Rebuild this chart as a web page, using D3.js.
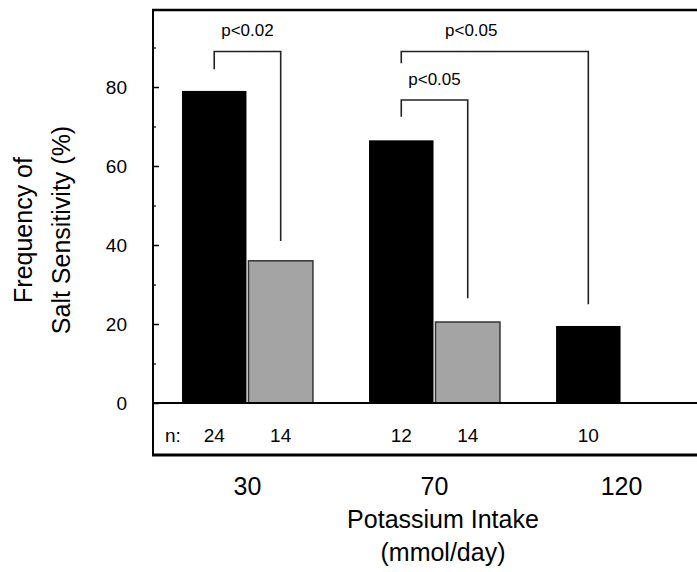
<!DOCTYPE html>
<html>
<head>
<meta charset="utf-8">
<script src="https://cdn.jsdelivr.net/npm/d3@7"></script>
<style>
  html, body { margin: 0; padding: 0; background: #fff; }
  svg { display: block; font-family: "Liberation Sans", Arial, Helvetica, sans-serif; }
</style>
</head>
<body>
<svg id="chart" width="697" height="572"></svg>
<script>
// ---- data ----
const groups = ["30", "70", "120"];
const series = ["K", "G"];                 // K = black bars, G = gray bars
const blackValues = [79, 66.5, 19.5];
const grayValues = [36, 20.5, null];
const blackN = ["24", "12", "10"];
const grayN = ["14", "14", null];
const yTicks = [0, 20, 40, 60, 80];
const yMinorTicks = [10, 30, 50, 70, 90];

const bracketLabels = ["p<0.02", "p<0.05", "p<0.05"];
const bracketFromGroup = ["30", "70", "70"];
const bracketFromSeries = ["K", "K", "K"];
const bracketToGroup = ["30", "120", "70"];
const bracketToSeries = ["G", "K", "G"];
const bracketTop = [89, 89, 76.7];
const bracketLeftEnd = [84.5, 86, 72.5];
const bracketRightEnd = [41, 25, 26.5];

const yTitleLines = ["Frequency of", "Salt Sensitivity (%)"];
const xTitleLines = ["Potassium Intake", "(mmol/day)"];

// ---- layout ----
const W = 697, H = 572;
const frameLeft = 153, frameTop = 10, frameBottom = 455, baseY = 403;

const svg = d3.select("#chart");
svg.append("rect").attr("width", W).attr("height", H).attr("fill", "#fff");

const y = d3.scaleLinear().domain([0, 100]).range([baseY, 8]);
const x0 = d3.scaleBand().domain(groups).range([153, 716]).paddingInner(0.3).paddingOuter(0.155);
const x1 = d3.scaleBand().domain(series).range([0, x0.bandwidth()]).paddingInner(0.03);

const barData = [];
groups.forEach((g, i) => {
  if (blackValues[i] != null) barData.push({ g, s: "K", v: blackValues[i], n: blackN[i] });
  if (grayValues[i] != null) barData.push({ g, s: "G", v: grayValues[i], n: grayN[i] });
});

// bars
svg.append("g").selectAll("rect").data(barData).join("rect")
  .attr("x", d => x0(d.g) + x1(d.s))
  .attr("y", d => y(d.v))
  .attr("width", x1.bandwidth())
  .attr("height", d => y(0) - y(d.v))
  .attr("fill", d => d.s === "K" ? "#000" : "#a4a4a4")
  .attr("stroke", d => d.s === "K" ? "none" : "#333")
  .attr("stroke-width", 1.5);

// frame lines
const frame = svg.append("g").attr("stroke", "#000").attr("fill", "none");
frame.append("line").attr("x1", frameLeft - 1).attr("x2", W).attr("y1", frameTop).attr("y2", frameTop).attr("stroke-width", 2.5);
frame.append("line").attr("x1", frameLeft).attr("x2", frameLeft).attr("y1", frameTop - 1).attr("y2", frameBottom + 1).attr("stroke-width", 2);
frame.append("line").attr("x1", frameLeft).attr("x2", W).attr("y1", baseY).attr("y2", baseY).attr("stroke-width", 2);
frame.append("line").attr("x1", frameLeft - 1).attr("x2", W).attr("y1", frameBottom).attr("y2", frameBottom).attr("stroke-width", 3);

// y axis (ticks pointing inward)
const yAxis = svg.append("g").attr("transform", `translate(${frameLeft},0)`)
  .call(d3.axisLeft(y).tickValues(yTicks).tickSizeInner(-6).tickSizeOuter(0).tickPadding(26));
yAxis.select(".domain").remove();
yAxis.selectAll("line").attr("stroke", "#000").attr("stroke-width", 1.5);
yAxis.selectAll("text").attr("font-size", 19).attr("fill", "#000")
  .attr("font-family", "Liberation Sans, Arial, sans-serif");

const yMinor = svg.append("g").attr("transform", `translate(${frameLeft},0)`)
  .call(d3.axisLeft(y).tickValues(yMinorTicks).tickSizeInner(-3).tickSizeOuter(0).tickFormat(""));
yMinor.select(".domain").remove();
yMinor.selectAll("line").attr("stroke", "#000").attr("stroke-width", 1.2);

// n labels
svg.append("text").attr("x", 165).attr("y", 442).attr("font-size", 19).text("n:");
svg.append("g").selectAll("text").data(barData).join("text")
  .attr("x", d => x0(d.g) + x1(d.s) + x1.bandwidth() / 2)
  .attr("y", 442)
  .attr("text-anchor", "middle")
  .attr("font-size", 19)
  .text(d => d.n);

// group labels
svg.append("g").selectAll("text").data(groups).join("text")
  .attr("x", g => x0(g) + x0.bandwidth() / 2)
  .attr("y", 495)
  .attr("text-anchor", "middle")
  .attr("font-size", 25)
  .text(g => g);

// x title
svg.append("g").selectAll("text").data(xTitleLines).join("text")
  .attr("x", 443)
  .attr("y", (d, i) => 528 + i * 33)
  .attr("text-anchor", "middle")
  .attr("font-size", 25)
  .text(d => d);

// y title
svg.append("g").selectAll("text").data(yTitleLines).join("text")
  .attr("transform", (d, i) => `translate(${32 + i * 38},230) rotate(-90)`)
  .attr("text-anchor", "middle")
  .attr("font-size", 25)
  .text(d => d);

// significance brackets
const cx = (g, s) => x0(g) + x1(s) + x1.bandwidth() / 2;
const br = svg.append("g");
bracketLabels.forEach((lab, i) => {
  const xl = cx(bracketFromGroup[i], bracketFromSeries[i]);
  const xr = cx(bracketToGroup[i], bracketToSeries[i]);
  const yt = y(bracketTop[i]);
  const path = d3.path();
  path.moveTo(xl, y(bracketLeftEnd[i]));
  path.lineTo(xl, yt);
  path.lineTo(xr, yt);
  path.lineTo(xr, y(bracketRightEnd[i]));
  br.append("path").attr("d", path.toString())
    .attr("fill", "none").attr("stroke", "#222").attr("stroke-width", 1.6);
  br.append("text")
    .attr("x", xl + Math.min((xr - xl) / 2, 70))
    .attr("y", yt - 15)
    .attr("text-anchor", "middle")
    .attr("font-size", 17)
    .text(lab);
});
</script>
</body>
</html>
